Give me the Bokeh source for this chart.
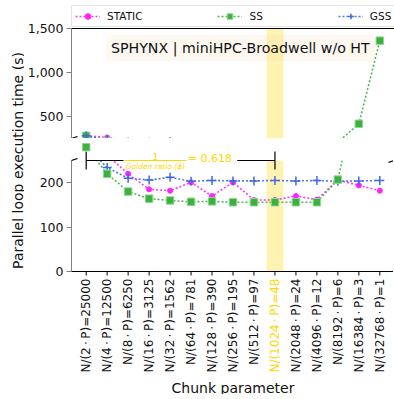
import math
from bokeh.plotting import figure
from bokeh.models import (Range1d, FixedTicker, NumeralTickFormatter, BoxAnnotation, Span,
                          Label, Arrow, TeeHead, Legend, LegendItem)
from bokeh.layouts import row, column
from bokeh.embed import file_html
from bokeh.resources import INLINE
from bokeh.core.properties import value

# ---------------- data ----------------
chunks = ["N/(2\u2009\u22c5\u2009P)=25000", "N/(4\u2009\u22c5\u2009P)=12500", "N/(8\u2009\u22c5\u2009P)=6250",
          "N/(16\u2009\u22c5\u2009P)=3125", "N/(32\u2009\u22c5\u2009P)=1562", "N/(64\u2009\u22c5\u2009P)=781",
          "N/(128\u2009\u22c5\u2009P)=390", "N/(256\u2009\u22c5\u2009P)=195", "N/(512\u2009\u22c5\u2009P)=97",
          "N/(1024\u2009\u22c5\u2009P)=48", "N/(2048\u2009\u22c5\u2009P)=24", "N/(4096\u2009\u22c5\u2009P)=12",
          "N/(8192\u2009\u22c5\u2009P)=6", "N/(16384\u2009\u22c5\u2009P)=3", "N/(32768\u2009\u22c5\u2009P)=1"]
static = [282, 262, 220, 185, 182, 201, 170, 201, 161, 161, 170, 162, 206, 194, 182]
ss     = [280, 220, 180, 164, 160, 157, 158, 156, 156, 156, 156, 156, 207, 417, 1362]
gss    = [282, 234, 210, 206, 212, 203, 205, 204, 204, 205, 204, 205, 203, 204, 205]
golden_idx = 9
golden_text = "= 0.618"
top_ticks = [500, 1000, 1500]
bottom_ticks = [0, 100, 200]
top_range = (250, 1500)
bottom_range = (0, 250)
title_text = "SPHYNX | miniHPC-Broadwell w/o HT"
x_title = "Chunk parameter"
y_title = "Parallel loop execution time (s)"

FONT = "DejaVu Sans"
GOLD = "#FFD700"
INK = "#111111"
n = len(chunks)
xs = list(range(n))
XR = Range1d(-0.7, n - 0.3)

# layout (pixels)
FW = 323           # frame width
LB = 46            # left border
TOP_H, TOP_PAD = 110, 23   # top panel height, legend strip above 1500
BOT_H, GAP = 111, 22       # bottom panel height, gap between panels
BELOW = 123                # room for tick labels and x title under the bottom panel
H = 394

top_extra = TOP_PAD * (top_range[1] - top_range[0]) / TOP_H
px = (bottom_range[1] - bottom_range[0]) / BOT_H   # data units per pixel, bottom panel


def make_fig(yr, fh, **kw):
    p = figure(frame_width=FW, frame_height=fh, x_range=XR, y_range=Range1d(*yr),
               output_backend="svg", toolbar_location=None, min_border_left=LB,
               min_border_right=0, x_axis_location=None, **kw)
    p.grid.visible = False
    p.outline_line_color = None
    return p


def style_y(p, ticks, bounds):
    ax = p.yaxis[0]
    ax.ticker = FixedTicker(ticks=ticks)
    ax.formatter = NumeralTickFormatter(format="0,0")
    ax.bounds = bounds
    ax.axis_line_color = "#808080"
    ax.major_tick_line_color = "#808080"
    ax.major_tick_out = 5
    ax.major_tick_in = 0
    ax.minor_tick_line_color = None
    ax.major_label_text_font = FONT
    ax.major_label_text_font_size = "12.5px"
    ax.major_label_text_color = INK
    ax.major_label_standoff = 3


top = make_fig((top_range[0], top_range[1] + top_extra), TOP_H + TOP_PAD,
               min_border_top=5, min_border_bottom=0)
bot = make_fig((bottom_range[0] - BELOW * px, bottom_range[1] + GAP * px), BOT_H + GAP + BELOW,
               min_border_top=0, min_border_bottom=0)
style_y(top, top_ticks, top_range)
style_y(bot, bottom_ticks, bottom_range)

# top spine
top.add_layout(Span(location=top_range[1], dimension="width", line_color="black", line_width=1))

# highlight band
top.add_layout(BoxAnnotation(left=golden_idx - 0.4, right=golden_idx + 0.4, top=top_range[1],
                             fill_color=GOLD, fill_alpha=0.3, line_color=None, level="underlay"))
bot.add_layout(BoxAnnotation(left=golden_idx - 0.4, right=golden_idx + 0.4, bottom=bottom_range[0],
                             fill_color=GOLD, fill_alpha=0.3, line_color=None, level="underlay"))

# series
series = [
    ("STATIC", static, "#ff22ff", "circle", 5),
    ("SS", ss, "#3cb043", "square", 7.5),
    ("GSS", gss, "#4169e1", "cross", 9),
]
legend_items = []
for name, vals, col, marker, size in series:
    rends = []
    for p in (top, bot):
        lr = p.line(xs, vals, line_color=col, line_width=1.6, line_dash="2 2", line_alpha=0.9)
        if marker == "square":
            sr = p.scatter(xs, vals, marker="square", size=size, fill_color=col,
                           line_color="#8fd88f", line_width=1,
                           level=("overlay" if p is bot else "glyph"))
        elif marker == "cross":
            sr = p.scatter(xs, vals, marker="cross", size=size, line_color=col, line_width=1.5)
        else:
            sr = p.scatter(xs, vals, marker="circle", size=size, fill_color=col, line_color=col)
        if p is top:
            rends = [lr, sr]
    legend_items.append(LegendItem(label=name, renderers=rends))

legend = Legend(items=legend_items, orientation="horizontal", location="top_left", margin=0,
                padding=3, spacing=75, glyph_width=25, glyph_height=14, label_height=14,
                label_width=0, label_standoff=7, label_text_font=FONT,
                label_text_font_size="10.5px", label_text_color=INK,
                border_line_color="#cccccc", border_line_width=1, background_fill_alpha=1)
top.add_layout(legend)

# title box
top.add_layout(Label(x=7.35, y=1278, text=title_text, text_align="center", text_baseline="middle",
                     text_font=FONT, text_font_size="14.2px", text_color=INK,
                     background_fill_color="wheat", background_fill_alpha=0.2,
                     padding=5, border_radius=5))

# blank the gap between the panels (bottom figure), keep the markers that overflow
yb = bottom_range[1]
bot.add_layout(BoxAnnotation(bottom=yb, fill_color="white", fill_alpha=1, line_color=None,
                             level="annotation"))

# x axis of the bottom panel: spine, ticks, tick labels and title
bot.add_layout(Span(location=bottom_range[0], dimension="width", line_color="black", line_width=1))
bot.segment(x0=xs, y0=[bottom_range[0]] * n, x1=xs, y1=[bottom_range[0] - 4 * px] * n,
            line_color="black", line_width=1)
label_colors = [GOLD if i == golden_idx else INK for i in xs]
bot.text(x=xs, y=[bottom_range[0] - 7 * px] * n, text=chunks, angle=math.pi / 2, text_align="right",
         text_baseline="middle", text_color=label_colors, text_font=value(FONT),
         text_font_size="12px")
bot.text(x=[(XR.start + XR.end) / 2], y=[bottom_range[0] - 116 * px], text=[x_title],
         text_align="center", text_baseline="middle", text_font=value(FONT),
         text_font_size="14px", text_color=INK)

# break marks
for x0 in (XR.start, XR.end):
    top.add_layout(Arrow(start=None, end=None, x_start=x0 - 0.29, y_start=top_range[0] - 23,
                         x_end=x0 + 0.29, y_end=top_range[0] + 23, line_color="black", line_width=1.2))
    bot.add_layout(Arrow(start=None, end=None, x_start=x0 - 0.29, y_start=yb - 2 * px,
                         x_end=x0 + 0.29, y_end=yb + 2 * px, line_color="black", line_width=1.2))

# golden ratio bracket annotation
bot.add_layout(Arrow(start=TeeHead(size=18, line_color="black", line_width=1.2), end=None,
                     x_start=0, y_start=yb, x_end=1.78, y_end=yb, line_color="black", line_width=1.2))
bot.add_layout(Arrow(start=None, end=TeeHead(size=18, line_color="black", line_width=1.2),
                     x_start=7.2, y_start=yb, x_end=golden_idx, y_end=yb, line_color="black", line_width=1.2))
bot.add_layout(Arrow(start=None, end=None, x_start=1.83, y_start=yb, x_end=4.78, y_end=yb,
                     line_color=GOLD, line_width=1))
bot.add_layout(Label(x=3.3, y=yb, y_offset=1, text="1", text_align="center", text_baseline="bottom",
                     text_color=GOLD, text_font=FONT, text_font_size="8.5px"))
bot.add_layout(Label(x=3.3, y=yb, y_offset=-1, text="Golden ratio (\u03d5)", text_align="center",
                     text_baseline="top", text_color=GOLD, text_font=FONT, text_font_size="7.5px",
                     text_font_style="italic"))
bot.add_layout(Label(x=4.85, y=yb, y_offset=2, text=golden_text, text_align="left",
                     text_baseline="middle", text_color=GOLD, text_font=FONT, text_font_size="11px"))

# y-axis title
yl = figure(frame_width=24, frame_height=H, x_range=Range1d(0, 24), y_range=Range1d(0, H),
            output_backend="svg", toolbar_location=None, min_border=0,
            x_axis_location=None, y_axis_location=None)
yl.grid.visible = False
yl.outline_line_color = None
yl.text(x=[17], y=[H - 160], text=[y_title], angle=math.pi / 2,
        text_align="center", text_baseline="middle", text_font=value(FONT),
        text_font_size="14px", text_color=INK)

layout = row(yl, column(top, bot))
open("out.html", "w").write(file_html(layout, INLINE))
